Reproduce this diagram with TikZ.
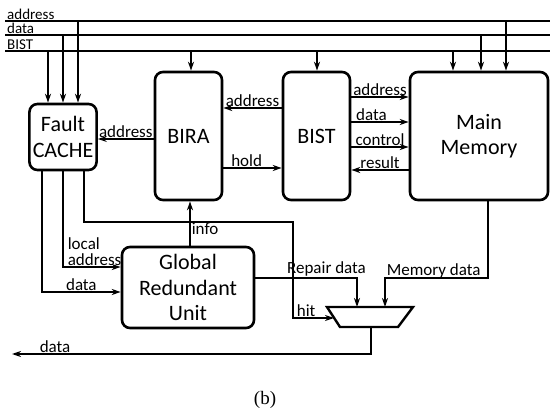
\documentclass[tikz,border=0pt]{standalone}
\usepackage{fontspec}
\setmainfont{Carlito}
\newfontfamily\capfont{Liberation Serif}
\usetikzlibrary{arrows.meta,calc,positioning}
\tikzset{
  blk/.style={draw, line width=2.6pt, rounded corners=8pt, align=center, font=\fontsize{22}{25.5}\selectfont},
  wire/.style={line width=1.7pt},
  bus/.style={line width=1.7pt},
  arr/.style={wire, -{Stealth[length=9pt,width=6pt]}},
  lbl/.style={font=\fontsize{17}{15}\selectfont, inner sep=1pt},
  muxs/.style={line width=2.4pt, line join=miter},
}

\begin{document}
\begin{tikzpicture}[x=1pt, y=-1pt]
\useasboundingbox (0,0) rectangle (550,412);
% buses
\coordinate (bA) at (5,21);
\coordinate (bD) at (5,35);
\coordinate (bB) at (5,51);
\foreach \b/\t in {bA/address, bD/data, bB/BIST}{
  \draw[bus] (\b) -- (\b -| 550,0);
  \node[lbl, anchor=base west, text depth=0pt, font=\fontsize{15}{15}\selectfont] at ([shift={(1pt,1.2pt)}]\b) {\t};
}

% blocks
\node[blk, minimum width=66pt, minimum height=66pt] (fc) at (63,137) {Fault\\CACHE};
\node[blk, minimum width=67pt, minimum height=128pt] (bira) at (188.5,136) {BIRA};
\node[blk, minimum width=67pt, minimum height=128pt] (bist) at (316.5,136) {BIST};
\node[blk, minimum width=138pt, minimum height=128pt] (mm) at (479,136) {Main\\Memory};
\node[blk, minimum width=132pt, minimum height=81pt] (gru) at (188,287.5) {Global\\Redundant\\Unit};

% bus taps
\foreach \b/\x/\n in {bB/48/fc, bD/63/fc, bA/78/fc, bB/191/bira, bB/317/bist, bB/453/mm, bD/481/mm, bA/506/mm}
  \draw[arr] (\b -| \x,0) -- (\n.north -| \x,0);

% BIRA / BIST / cache
\draw[arr] (bira.west |- 0,139) -- (fc.east |- 0,139) node[lbl, midway, above] {address};
\draw[arr] (bist.west |- 0,108) -- (bira.east |- 0,108) node[lbl, midway, above] {address};
\draw[arr] (bira.east |- 0,168) -- (bist.west |- 0,168) node[lbl, pos=0.4, above] {hold};

% BIST / main memory
\foreach \y/\t/\p in {97/address/0.5, 122/data/0.35, 147/control/0.5}
  \draw[arr] (bist.east |- 0,\y) -- (mm.west |- 0,\y) node[lbl, pos=\p, above] {\t};
\draw[arr] (mm.west |- 0,170) -- (bist.east |- 0,170) node[lbl, midway, above] {result};

% mux
\coordinate (mux) at (370,317);
\coordinate (mA) at (357,307);
\coordinate (mB) at (385,307);
\coordinate (mH) at (334,318);
\coordinate (mO) at (371,327);
\coordinate (hitbend) at (293,222);
\coordinate (dout) at (12,354);
\draw[muxs] (mux) ++(-43,-10) -- ++(86,0) -- ++(-15,20) -- ++(-58,0) -- cycle;

% cache to global redundant unit
\draw[arr] (fc.south -| 42,0) |- (gru.west |- 0,292) node[lbl, pos=0.75, above] {data};
\draw[arr] (fc.south) |- (gru.west |- 0,267)
  node[lbl, pos=0.5, anchor=south west, xshift=3pt, align=left, font=\fontsize{17}{15.5}\selectfont] {local\\address};
\draw[arr] (fc.south -| 84,0) |- (hitbend) |- (mH) node[lbl, pos=0.66, above] {hit};
\draw[arr] (gru.north -| 190,0) -- (bira.south -| 190,0) node[lbl, pos=0.25, anchor=base west] {info};

% data paths into mux
\draw[arr] (gru.east |- 0,278) -| (mA) node[lbl, pos=0.35, above] {Repair data};
\draw[arr] (mm.south -| 488,0) |- (mB |- 0,278) node[lbl, anchor=base west, yshift=2pt] {Memory data} -- (mB);
\draw[arr] (mO) |- (dout) node[lbl, pos=0.94, above] {data};

\node[font=\capfont\fontsize{19}{22}\selectfont] (cap) at (265,400) {(b)};
\end{tikzpicture}
\end{document}
